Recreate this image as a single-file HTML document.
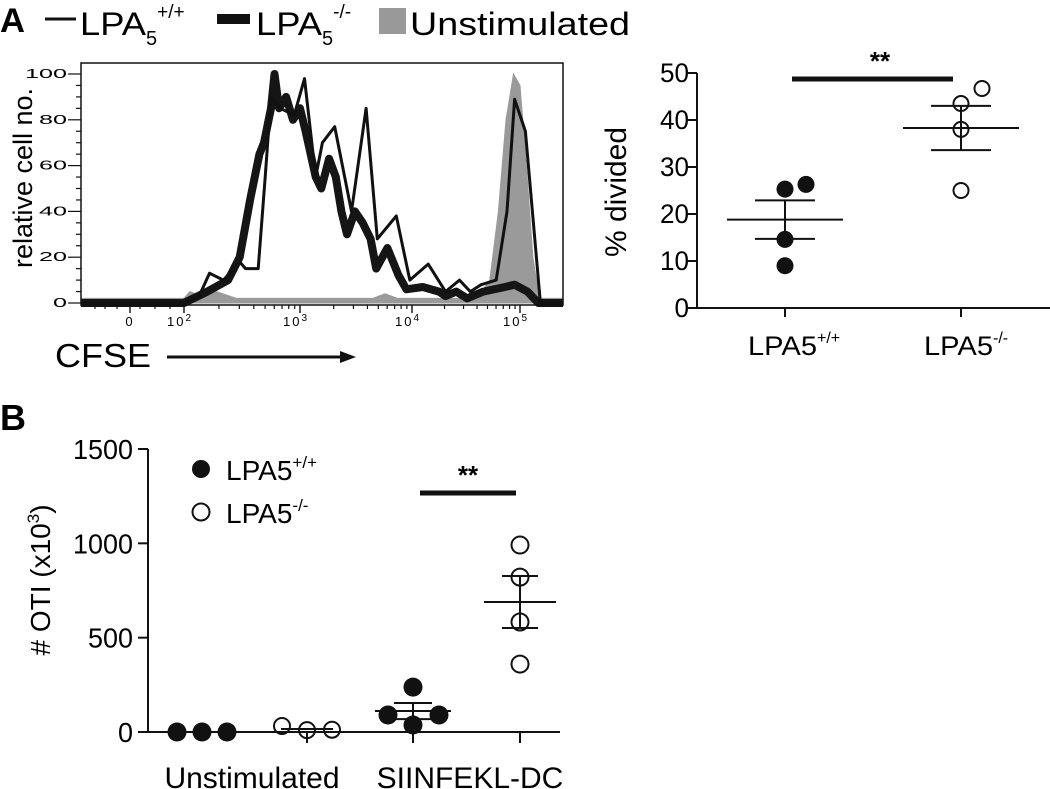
<!DOCTYPE html>
<html><head><meta charset="utf-8"><style>
html,body{margin:0;padding:0;background:#fff;}
svg{display:block;font-family:"Liberation Sans",Arial,sans-serif;}
</style></head><body>
<svg id="fig" width="1050" height="789" viewBox="0 0 1050 789">
<g id="A">
  <text x="0" y="32" font-size="34" font-weight="bold" textLength="25" lengthAdjust="spacingAndGlyphs">A</text>
  <g>
    <line x1="45" y1="19" x2="76" y2="19" stroke="#111" stroke-width="3"/>
    <text x="80" y="35" font-size="32"><tspan textLength="66" lengthAdjust="spacingAndGlyphs">LPA</tspan><tspan font-size="20" dy="10">5</tspan><tspan font-size="19" dy="-27">+/+</tspan></text>
    <rect x="217" y="14" width="33" height="10" fill="#111"/>
    <text x="256" y="35" font-size="32"><tspan textLength="66" lengthAdjust="spacingAndGlyphs">LPA</tspan><tspan font-size="20" dy="10">5</tspan><tspan font-size="19" dy="-27">-/-</tspan></text>
    <rect x="379" y="8" width="27" height="26" fill="#999"/>
    <text x="410" y="35" font-size="32" textLength="220" lengthAdjust="spacingAndGlyphs">Unstimulated</text>
  </g>
  <g id="hist"></g>
  <text transform="translate(32,178) rotate(-90)" text-anchor="middle" font-size="27">relative cell no.</text>
  <text x="55" y="367" font-size="33" textLength="96" lengthAdjust="spacingAndGlyphs">CFSE</text>
  <line x1="167" y1="357" x2="342" y2="357" stroke="#111" stroke-width="3"/>
  <polygon points="340,351 356,357 340,363" fill="#111"/>
  <g id="dotA"></g>
  <text transform="translate(626,192) rotate(-90)" text-anchor="middle" font-size="30">% divided</text>
</g>
<g id="B">
  <text x="0" y="430" font-size="36" font-weight="bold">B</text>
  <g id="dotB"></g>
  <text transform="translate(50,580) rotate(-90)" text-anchor="middle" font-size="28"># OTI (x10<tspan font-size="17" dy="-11">3</tspan><tspan dy="11">)</tspan></text>
  <circle cx="201" cy="469" r="9" fill="#111"/>
  <text x="226" y="480" font-size="28">LPA5<tspan font-size="17" dy="-12">+/+</tspan></text>
  <circle cx="201" cy="512" r="8.5" fill="none" stroke="#111" stroke-width="2"/>
  <text x="226" y="523" font-size="28">LPA5<tspan font-size="17" dy="-12">-/-</tspan></text>
</g>
</svg>
<script>
// ---------- Histogram data (log10 CFSE, % of max) ----------
const thinL = [2.0,2.13,2.22,2.34,2.48,2.53,2.64,2.70,2.75,2.83,2.95,3.04,3.14,3.20,3.31,3.46,3.59,3.69,3.86,3.98,4.15,4.31,4.44,4.54,4.64,4.78,4.88,4.95,5.05,5.19];
const thinV = [0,3,13,10,18,15,15,55,90,85,82,98,55,70,77,40,85,28,38,10,17,5,10,5,8,10,40,89,75,0];
const thickL = [2.0,2.2,2.38,2.48,2.57,2.65,2.69,2.75,2.78,2.82,2.88,2.94,3.0,3.05,3.14,3.19,3.26,3.32,3.37,3.42,3.49,3.56,3.63,3.68,3.78,3.88,3.95,4.10,4.25,4.31,4.41,4.51,4.66,4.86,4.95,5.07,5.17];
const thickV = [0,5,10,20,45,65,70,85,100,85,90,80,85,75,55,50,63,55,40,30,40,35,28,15,24,12,6,7,5,3,5,2,5,7,8,5,0];
const greyL = [2.0,2.05,2.15,2.28,2.45,3.65,3.76,3.87,4.6,4.72,4.8,4.87,4.94,5.0,5.06,5.12,5.18];
const greyV = [2,5,3,5,2,2,4,2,2,10,40,80,100,95,60,20,2];
const histYTicks = [0,20,40,60,80,100];
const histXTickLabels = ["0","10","10","10","10"];
const histXTickExp = ["","2","3","4","5"];
const histXTickL = [0,2,3,4,5];

// ---------- % divided data ----------
const divCats = ["LPA5","LPA5"];
const divSup = ["+/+","-/-"];
const divWT = [25.3,26.3,14.6,9.0];
const divKO = [43.5,46.7,38.0,25.0];
const divMean = [18.8,38.3];
const divSem = [4.1,4.7];
const divYTicks = [0,10,20,30,40,50];

// ---------- OTI count data ----------
const otiCats = ["Unstimulated","SIINFEKL-DC"];
const otiUnstimWT = [0,0,0];
const otiUnstimKO = [32,10,12];
const otiDcWT = [238,90,37,90];
const otiDcKO = [991,821,583,360];
const otiMean = [0,16,111,689];
const otiSem = [0,0,43,138];
const otiYTicks = [0,500,1000,1500];

const NS = "http://www.w3.org/2000/svg";
function mk(parent, tag, attrs){const e=document.createElementNS(NS,tag);for(const k in attrs)e.setAttribute(k,attrs[k]);parent.appendChild(e);return e;}

// ===== Histogram =====
(function(){
  const g=document.getElementById('hist');
  const left=81,right=563,top=63,bottom=305,y0=303,y100=74;
  const ancL=[0,2,3,4,5,5.4], ancX=[130,184,300,412,520,563];
  function xs(L){for(let i=0;i<ancL.length-1;i++){if(L<=ancL[i+1]||i==ancL.length-2){const t=(L-ancL[i])/(ancL[i+1]-ancL[i]);return ancX[i]+t*(ancX[i+1]-ancX[i]);}}}
  function ys(v){return y0-(v/100)*(y0-y100);}
  function pts(Ls,Vs){let p=[[left,ys(0)]];for(let i=0;i<Ls.length;i++)p.push([xs(Ls[i]),ys(Vs[i])]);p.push([right,ys(0)]);return p;}
  const gp=pts(greyL,greyV); gp[0][1]=ys(greyV[0]); gp[gp.length-1][1]=ys(greyV[greyV.length-1]);
  let d="M"+left+","+y0+" "+gp.map(p=>"L"+p[0].toFixed(1)+","+p[1].toFixed(1)).join(" ")+" L"+right+","+y0+"Z";
  const gr=mk(g,'path',{d:d,fill:'#9a9a9a',stroke:'#9a9a9a','stroke-width':1});
  
  
  const tk=mk(g,'path',{d:"M"+pts(thickL,thickV).map(p=>p[0].toFixed(1)+","+p[1].toFixed(1)).join(" L"),fill:'none',stroke:'#151515','stroke-width':8,'stroke-linejoin':'round'});
  
  
  const tn=mk(g,'path',{d:"M"+pts(thinL,thinV).map(p=>p[0].toFixed(1)+","+p[1].toFixed(1)).join(" L"),fill:'none',stroke:'#111','stroke-width':3,'stroke-linejoin':'round'});
  
  
  const box=mk(g,'rect',{x:left,y:top,width:right-left,height:bottom-top,fill:'none',stroke:'#111','stroke-width':1.5});
  
  
  for(let v=0;v<=100;v+=5){const y=ys(v);const maj=v%20==0;mk(g,'line',{x1:left-(maj?13:5),y1:y,x2:left,y2:y,stroke:'#111','stroke-width':1.2});}
  histYTicks.forEach(v=>{const t=mk(g,'text',{x:67,y:ys(v)+4,'text-anchor':'end','font-size':13,'textLength':String(v).length*14,'lengthAdjust':'spacingAndGlyphs'});t.textContent=v;
    
    });
  const minorNeg=[95,105,117,140,155,170];
  minorNeg.forEach(x=>mk(g,'line',{x1:x,y1:bottom,x2:x,y2:bottom+4,stroke:'#111','stroke-width':1.2}));
  for(let dcd=2;dcd<5;dcd++){for(let m=2;m<10;m++){const x=xs(dcd+Math.log10(m));mk(g,'line',{x1:x,y1:bottom,x2:x,y2:bottom+4,stroke:'#111','stroke-width':1.2});}}
  histXTickL.forEach((L,i)=>{const x=xs(L);mk(g,'line',{x1:x,y1:bottom,x2:x,y2:bottom+8,stroke:'#111','stroke-width':1.4});
    const t=mk(g,'text',{x:x-(histXTickExp[i]?4:0),y:bottom+21,'text-anchor':'middle','font-size':13,'letter-spacing':'2'});
    t.textContent=histXTickLabels[i];
    if(histXTickExp[i]){const s=mk(t,'tspan',{dy:-5,'font-size':10});s.textContent=histXTickExp[i];}
    
    });
})();

// ===== % divided =====
(function(){
  const g=document.getElementById('dotA');
  const ax=697,y0=308,y50=73,xr=1050;
  const cx=[785,961];
  function ys(v){return y0-(v/50)*(y0-y50);}
  mk(g,'line',{x1:ax,y1:y50,x2:ax,y2:y0,stroke:'#111','stroke-width':2});
  mk(g,'line',{x1:ax,y1:y0,x2:xr,y2:y0,stroke:'#111','stroke-width':2});
  divYTicks.forEach(v=>{mk(g,'line',{x1:ax-9,y1:ys(v),x2:ax,y2:ys(v),stroke:'#111','stroke-width':2});
    const t=mk(g,'text',{x:ax-8,y:ys(v)+9,'text-anchor':'end','font-size':27,'textLength':String(v).length*14.5,'lengthAdjust':'spacingAndGlyphs'});t.textContent=v;
    
    });
  cx.forEach((x,i)=>{mk(g,'line',{x1:x,y1:y0,x2:x,y2:y0+9,stroke:'#111','stroke-width':2});
    const t=mk(g,'text',{x:x-37,y:355,'font-size':27});
    const a=mk(t,'tspan',{textLength:69,lengthAdjust:'spacingAndGlyphs'});a.textContent=divCats[i];
    const s=mk(t,'tspan',{dy:-12,'font-size':16});s.textContent=divSup[i];
    
    });
  const wOff=[0,21,0,0], kOff=[0,21,0,0];
  [0,1].forEach(i=>{const x=cx[i];
    mk(g,'line',{x1:x-58,y1:ys(divMean[i]),x2:x+58,y2:ys(divMean[i]),stroke:'#111','stroke-width':2});
    mk(g,'line',{x1:x,y1:ys(divMean[i]-divSem[i]),x2:x,y2:ys(divMean[i]+divSem[i]),stroke:'#111','stroke-width':2});
    mk(g,'line',{x1:x-30,y1:ys(divMean[i]+divSem[i]),x2:x+30,y2:ys(divMean[i]+divSem[i]),stroke:'#111','stroke-width':2});
    mk(g,'line',{x1:x-30,y1:ys(divMean[i]-divSem[i]),x2:x+30,y2:ys(divMean[i]-divSem[i]),stroke:'#111','stroke-width':2});});
  divWT.forEach((v,i)=>{const c=mk(g,'circle',{cx:cx[0]+wOff[i],cy:ys(v),r:8.5,fill:'#111'});
    
    });
  divKO.forEach((v,i)=>{const c=mk(g,'circle',{cx:cx[1]+kOff[i],cy:ys(v),r:7.5,fill:'none',stroke:'#111','stroke-width':2});
    
    });
  const sb=mk(g,'line',{x1:792,y1:79,x2:953,y2:79,stroke:'#111','stroke-width':5});
  
  
  const st=mk(g,'text',{x:880,y:70,'text-anchor':'middle','font-size':26,'font-weight':'bold'});st.textContent="**";
  
  
})();

// ===== OTI =====
(function(){
  const g=document.getElementById('dotB');
  const ax=148,y0=732,ytop=449,xr=560;
  function ys(v){return y0-(v/1500)*(y0-ytop);}
  mk(g,'line',{x1:ax,y1:ytop,x2:ax,y2:y0,stroke:'#111','stroke-width':2});
  mk(g,'line',{x1:ax,y1:y0,x2:xr,y2:y0,stroke:'#111','stroke-width':2});
  otiYTicks.forEach(v=>{mk(g,'line',{x1:ax-10,y1:ys(v),x2:ax,y2:ys(v),stroke:'#111','stroke-width':2});
    const t=mk(g,'text',{x:ax-15,y:ys(v)+10,'text-anchor':'end','font-size':28,'textLength':String(v).length*15,'lengthAdjust':'spacingAndGlyphs'});t.textContent=v;
    
    });
  const gx=[202,307,413,520];
  [307,413,520].forEach(x=>mk(g,'line',{x1:x,y1:y0,x2:x,y2:y0+11,stroke:'#111','stroke-width':2}));
  const catX=[252,470];
  otiCats.forEach((c,i)=>{const t=mk(g,'text',{x:catX[i],y:788,'text-anchor':'middle','font-size':30});t.textContent=c;
    
    });
  const mw=[25,26,38,36], sw=[0,0,19,18];
  otiMean.forEach((m,i)=>{const x=gx[i];
    mk(g,'line',{x1:x-mw[i],y1:ys(m),x2:x+mw[i],y2:ys(m),stroke:'#111','stroke-width':2});
    if(otiSem[i]>0){
      mk(g,'line',{x1:x,y1:ys(m-otiSem[i]),x2:x,y2:ys(m+otiSem[i]),stroke:'#111','stroke-width':2});
      mk(g,'line',{x1:x-sw[i],y1:ys(m+otiSem[i]),x2:x+sw[i],y2:ys(m+otiSem[i]),stroke:'#111','stroke-width':2});
      mk(g,'line',{x1:x-sw[i],y1:ys(m-otiSem[i]),x2:x+sw[i],y2:ys(m-otiSem[i]),stroke:'#111','stroke-width':2});}
  });
  const off3=[-25,0,25], off4=[0,-25,0,26];
  otiUnstimWT.forEach((v,i)=>{const c=mk(g,'circle',{cx:gx[0]+off3[i],cy:ys(v),r:9.5,fill:'#111'});
    
    });
  otiUnstimKO.forEach((v,i)=>{const c=mk(g,'circle',{cx:gx[1]+off3[i],cy:ys(v),r:8,fill:'none',stroke:'#111','stroke-width':2});
    
    });
  otiDcWT.forEach((v,i)=>{const c=mk(g,'circle',{cx:gx[2]+off4[i],cy:ys(v),r:9.5,fill:'#111'});
    
    });
  otiDcKO.forEach((v,i)=>{const c=mk(g,'circle',{cx:gx[3],cy:ys(v),r:8.5,fill:'none',stroke:'#111','stroke-width':2});
    
    });
  const sb=mk(g,'line',{x1:420,y1:493,x2:516,y2:493,stroke:'#111','stroke-width':5});
  
  
  const st=mk(g,'text',{x:468,y:484,'text-anchor':'middle','font-size':26,'font-weight':'bold'});st.textContent="**";
  
  
})();
</script>
</body></html>
